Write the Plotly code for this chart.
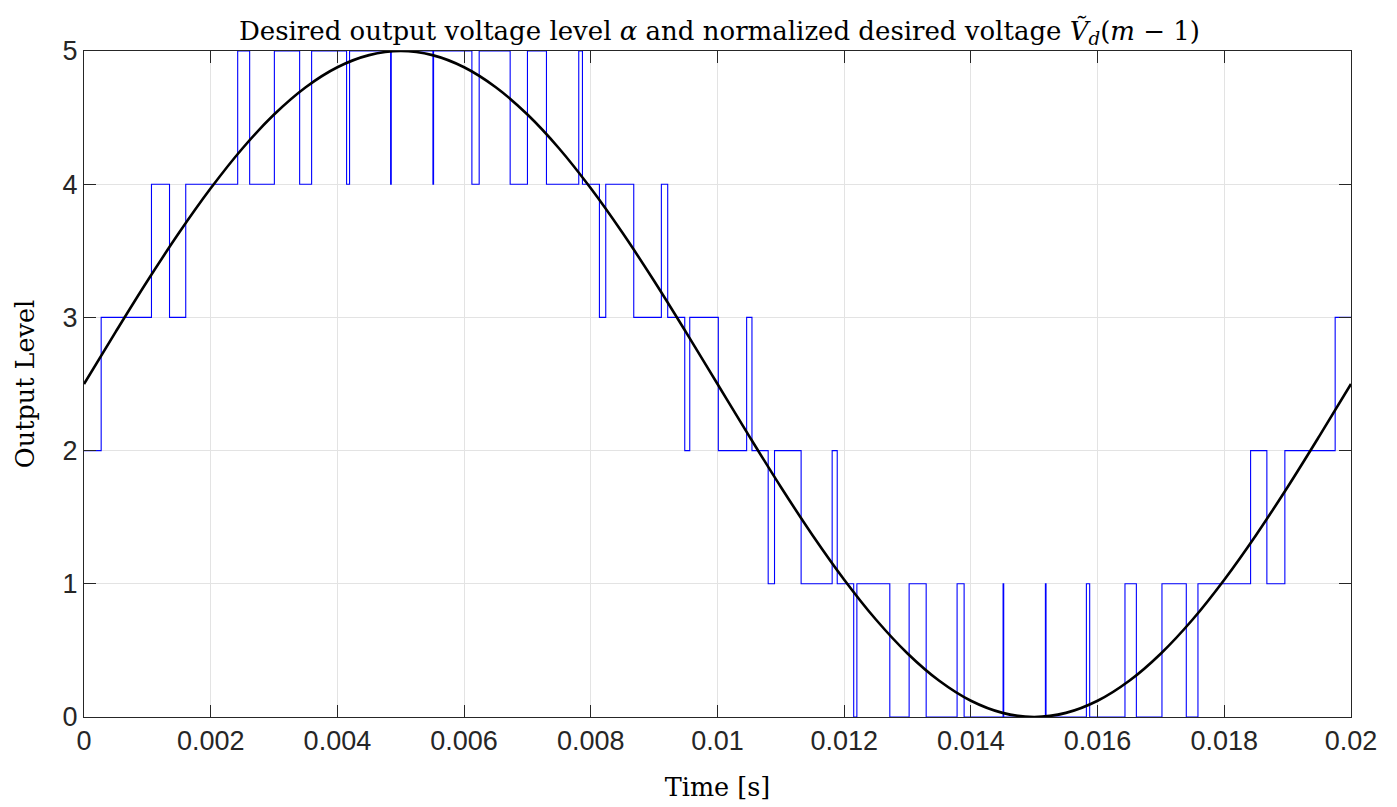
import plotly.graph_objects as go

# Desired output voltage level alpha (stair signal): switching instants [s] and levels held from them
alpha_t = [0.0, 0.000271, 0.001065, 0.00135, 0.001606, 0.002426, 0.002615, 0.003005,
           0.003404, 0.003593, 0.004145, 0.004192, 0.00484, 0.00485, 0.005508, 0.005518,
           0.006123, 0.006238, 0.006727, 0.007, 0.0073, 0.00781, 0.007868, 0.008136,
           0.008236, 0.008678, 0.009114, 0.009214, 0.009483, 0.009562, 0.010013, 0.01046,
           0.010544, 0.0108, 0.0109, 0.01132, 0.01181, 0.01189, 0.01215, 0.0122,
           0.01272, 0.013025, 0.013294, 0.013782, 0.013893, 0.014508, 0.014518, 0.015176,
           0.015186, 0.015823, 0.015875, 0.016432, 0.016612, 0.017016, 0.0174, 0.017584,
           0.018415, 0.018672, 0.018956, 0.01975, 0.02]
alpha_lvl = [2, 3, 4, 3, 4, 5, 4, 5,
             4, 5, 4, 5, 4, 5, 4, 5,
             4, 5, 4, 5, 4, 5, 4, 3,
             4, 3, 4, 3, 2, 3, 2, 3,
             2, 1, 2, 1, 2, 1, 0, 1,
             0, 1, 0, 1, 0, 1, 0, 1,
             0, 1, 0, 1, 0, 1, 0, 1,
             2, 1, 2, 3, 3]

# Normalized desired voltage (read every 0.5 ms)
vd_t = [i * 0.0005 for i in range(41)]
vd_val = [2.5, 2.891, 3.273, 3.635, 3.969, 4.268, 4.523, 4.728, 4.878, 4.969,
          5.0, 4.969, 4.878, 4.728, 4.523, 4.268, 3.969, 3.635, 3.273, 2.891,
          2.5, 2.109, 1.727, 1.365, 1.031, 0.732, 0.477, 0.272, 0.122, 0.031,
          0.0, 0.031, 0.122, 0.272, 0.477, 0.732, 1.031, 1.365, 1.727, 2.109, 2.5]

x_ticks = [0, 0.002, 0.004, 0.006, 0.008, 0.01, 0.012, 0.014, 0.016, 0.018, 0.02]
x_tick_text = ["0", "0.002", "0.004", "0.006", "0.008", "0.01", "0.012", "0.014", "0.016", "0.018", "0.02"]
y_ticks = [0, 1, 2, 3, 4, 5]

SERIF = "DejaVu Serif, serif"

fig = go.Figure()
fig.add_trace(go.Scatter(x=alpha_t, y=alpha_lvl, mode="lines", line_shape="hv",
                         line=dict(color="#0000ff", width=1.1), showlegend=False))
fig.add_trace(go.Scatter(x=vd_t, y=vd_val, mode="lines", line_shape="spline",
                         line=dict(color="#000000", width=2.6), showlegend=False))

axis_common = dict(showline=True, linecolor="#262626", linewidth=1, mirror="ticks",
                   ticks="inside", ticklen=12, tickcolor="#262626", tickwidth=1,
                   showgrid=True, gridcolor="#e3e3e3", gridwidth=1, zeroline=False,
                   tickfont=dict(family="Liberation Sans, Arial", size=27, color="#262626"))

fig.update_xaxes(range=[0, 0.02], tickvals=x_ticks, ticktext=x_tick_text,
                 title=dict(text="Time [s]", font=dict(family=SERIF, size=25.5, color="#000"), standoff=22),
                 **axis_common)
fig.update_yaxes(range=[0, 5], tickvals=y_ticks,
                 title=dict(text="Output Level", font=dict(family=SERIF, size=25.5, color="#000"), standoff=20),
                 **axis_common)

fig.update_layout(
    width=1397, height=807,
    margin=dict(l=84, r=46, t=51, b=90),
    paper_bgcolor="white", plot_bgcolor="white",
    title=dict(text="Desired output voltage level <i>α</i> and normalized desired voltage <i>Ṽ</i><sub><i>d</i></sub>(<i>m</i> − 1)",
               x=0.515, xanchor="center", y=0.962, yanchor="middle",
               font=dict(family=SERIF, size=26, color="#000")),
)

fig.write_html("out.html")
